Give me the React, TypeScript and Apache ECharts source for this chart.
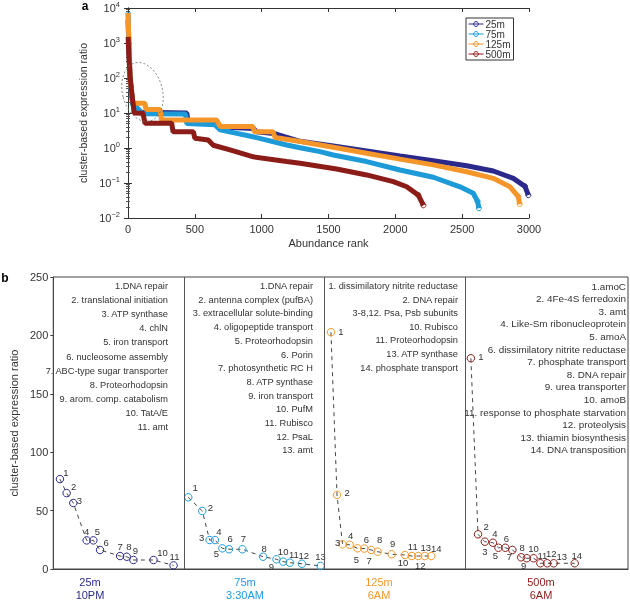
import React, { useEffect, useRef } from 'react';
import * as echarts from 'echarts';

const FONT = '"Liberation Sans", Arial, Helvetica, sans-serif';
const C25 = '#2b2a8c';
const C75 = '#1d9bd9';
const C125 = '#f5962a';
const C500 = '#8c1c17';
const TXT = '#333333';

// ---- Panel a: abundance rank vs cluster-based expression ratio ----
const RANK_25 = [1, 3, 6, 10, 15, 25, 35, 50, 100, 440, 450, 650, 700, 940, 960, 1090, 1287, 1536, 1785, 2035, 2284, 2534, 2733, 2883, 2970, 2995];
const VAL_25 = [4500, 2000, 900, 300, 100, 40, 20, 13, 10.5, 10, 5.5, 5.2, 4.0, 3.6, 2.9, 2.6, 1.55, 1.14, 0.82, 0.59, 0.43, 0.31, 0.22, 0.136, 0.08, 0.045];

const RANK_75 = [1, 3, 6, 10, 15, 25, 35, 60, 110, 430, 440, 650, 690, 935, 1187, 1287, 1436, 1536, 1785, 2035, 2284, 2484, 2583, 2615, 2625];
const VAL_75 = [7500, 3000, 1200, 400, 110, 40, 17, 15, 9.5, 9.4, 5, 4.6, 3.3, 2.1, 1.22, 1.02, 0.79, 0.63, 0.41, 0.235, 0.146, 0.078, 0.051, 0.03, 0.019];

const RANK_125 = [1, 3, 6, 10, 15, 25, 35, 45, 127, 135, 240, 250, 663, 690, 935, 945, 1085, 1100, 1300, 1536, 1785, 2035, 2284, 2534, 2733, 2858, 2920, 2930];
const VAL_125 = [7200, 3200, 1300, 450, 130, 45, 22, 19, 19, 12.6, 12.6, 6.3, 6.3, 4.1, 4.1, 2.9, 2.9, 2.0, 1.5, 1.05, 0.71, 0.48, 0.33, 0.21, 0.136, 0.078, 0.041, 0.025];

const RANK_500 = [1, 3, 6, 10, 15, 25, 35, 40, 45, 112, 127, 327, 337, 489, 500, 600, 638, 763, 938, 1187, 1287, 1561, 1785, 1985, 2085, 2172, 2210];
const VAL_500 = [1500, 900, 500, 250, 120, 50, 22, 17, 10, 9.8, 5.1, 5.1, 2.9, 2.9, 1.9, 1.7, 1.2, 0.88, 0.56, 0.41, 0.365, 0.25, 0.17, 0.109, 0.078, 0.045, 0.023];

const DEPTHS = ['25m', '75m', '125m', '500m'];
const TIMES = ['10PM', '3:30AM', '6AM', '6AM'];

// ---- Panel b: top transcripts per depth ----
const BX_25 = [1, 2, 3, 5, 6, 7, 10, 11, 12, 15, 18];
const BY_25 = [77, 65, 56.5, 24.5, 24.5, 16.3, 11.1, 10.5, 7.7, 7.7, 3.1];
const BX_75 = [20.2, 22.3, 23.4, 24.2, 25.3, 26.3, 28.3, 31.4, 33.4, 34.4, 35.4, 37.2, 40.0];
const BY_75 = [61.4, 49.7, 24.8, 24.8, 17.7, 16.9, 16.9, 10.5, 8.3, 6.3, 5.4, 4.5, 2.6];
const BX_125 = [41.55, 42.46, 43.29, 44.36, 45.52, 46.55, 47.57, 48.54, 50.63, 52.62, 53.64, 54.62, 55.58, 56.56];
const BY_125 = [202.7, 63.4, 21.1, 20.7, 17.7, 17.5, 16.3, 14.8, 12.6, 12.0, 11.1, 11.1, 11.1, 11.1];
const BX_500 = [62.49, 63.56, 64.58, 65.79, 66.62, 67.64, 68.7, 70.01, 70.85, 71.87, 72.89, 73.91, 74.88, 78.03];
const BY_500 = [180.4, 29.7, 23.4, 22.5, 18.2, 18.2, 16.3, 10.0, 9.2, 9.2, 4.9, 4.9, 4.9, 4.9];
const DIVIDERS = [19.53, 40.52, 61.66];

const GENES_25 = ['1.DNA repair', '2. translational initiation', '3. ATP synthase', '4. chlN', '5. iron transport', '6. nucleosome assembly', '7. ABC-type sugar transporter', '8. Proteorhodopsin', '9. arom. comp. catabolism', '10. TatA/E', '11. amt'];
const GENES_75 = ['1.DNA repair', '2. antenna complex (pufBA)', '3. extracellular solute-binding', '4. oligopeptide transport', '5. Proteorhodopsin', '6. Porin', '7. photosynthetic RC H', '8. ATP synthase', '9. iron transport', '10. PufM', '11. Rubisco', '12. PsaL', '13. amt'];
const GENES_125 = ['1. dissimilatory nitrite reductase', '2. DNA repair', '3-8,12. Psa, Psb subunits', '10. Rubisco', '11. Proteorhodopsin', '13. ATP synthase', '14. phosphate transport'];
const GENES_500 = ['1.amoC', '2. 4Fe-4S ferredoxin', '3. amt', '4. Like-Sm ribonucleoprotein', '5. amoA', '6. dissimilatory nitrite reductase', '7. phosphate transport', '8. DNA repair', '9. urea transporter', '10. amoB', '11. response to phosphate starvation', '12. proteolysis', '13. thiamin biosynthesis', '14. DNA transposition'];

// label offsets (style only)
const OFF_25 = [[6, -7], [7, -7], [6, -3], [0, -9], [4, -9], [6, -7], [0, -10], [2, -10], [2, -10], [9, -8], [1, -9]];
const OFF_75 = [[7, -10], [8, -3], [-8, -3], [4, -9], [-6, 5], [1, -11], [1, -11], [1, -8], [-5, 7], [0, -10], [4, -8], [2, -8], [0, -9]];
const OFF_125 = [[10, -1], [10, -2], [-5, -2], [1, -9], [-1, 11], [2, -9], [-2, 11], [2, -12], [1, -11], [-2, 8], [1, -10], [2, 9], [1, -9], [5, -8]];
const OFF_500 = [[10, -2], [8, -8], [0, 10], [2, -9], [-3, 8], [1, -9], [-3, 7], [1, -10], [-3, 7], [0, -10], [2, -8], [4, -10], [8, -7], [2, -8]];

function topSeries(name: string, ranks: number[], vals: number[], color: string) {
  const n = ranks.length;
  return {
    type: 'line',
    name,
    xAxisIndex: 0,
    yAxisIndex: 0,
    data: ranks.map((r, i) =>
      i >= n - 2
        ? { value: [r, vals[i]], symbol: 'circle', symbolSize: 5 }
        : { value: [r, vals[i]] }
    ),
    symbol: 'none',
    showSymbol: true,
    lineStyle: { width: 5, color },
    itemStyle: { color: 'rgba(255,255,255,0)', borderColor: color, borderWidth: 1 },
    emphasis: { disabled: true },
  };
}

function bottomSeries(name: string, xs: number[], ys: number[], offs: number[][], color: string, extra: any = {}) {
  return {
    type: 'line',
    name,
    xAxisIndex: 2,
    yAxisIndex: 2,
    data: xs.map((x, i) => ({
      value: [x, ys[i]],
      label: { offset: offs[i] },
    })),
    symbol: 'circle',
    symbolSize: 7.5,
    showSymbol: true,
    lineStyle: { width: 1, color: '#444', type: [4, 4] },
    itemStyle: { color: 'rgba(255,255,255,0)', borderColor: color, borderWidth: 1 },
    label: {
      show: true,
      position: 'inside',
      formatter: (p: any) => String(p.dataIndex + 1),
      fontSize: 9.5,
      color: TXT,
      fontFamily: FONT,
    },
    emphasis: { disabled: true },
    z: 3,
    ...extra,
  };
}

function geneTexts(lines: string[], right: number, step: number, size: number) {
  return lines.map((t, i) => ({
    type: 'text',
    x: right,
    y: 286 + i * step,
    style: {
      text: t,
      fontSize: size,
      fontFamily: FONT,
      fill: TXT,
      textAlign: 'right',
      textVerticalAlign: 'middle',
    },
    z: 10,
  }));
}

function depthLabels() {
  const cx = [90, 245, 379, 541];
  const cols = [C25, C75, C125, C500];
  const out: any[] = [];
  DEPTHS.forEach((d, i) => {
    out.push({ type: 'text', x: cx[i], y: 582, style: { text: d, fontSize: 11, fontFamily: FONT, fill: cols[i], textAlign: 'center', textVerticalAlign: 'middle' } });
    out.push({ type: 'text', x: cx[i], y: 595, style: { text: TIMES[i], fontSize: 11, fontFamily: FONT, fill: cols[i], textAlign: 'center', textVerticalAlign: 'middle' } });
  });
  return out;
}

export default function App() {
  const ref = useRef<HTMLDivElement>(null);
  useEffect(() => {
    if (!ref.current) return;
    const chart = echarts.init(ref.current, undefined, { renderer: 'svg' });
    const axisLine = { show: true, lineStyle: { color: '#333', width: 1 } };
    const option: any = {
      animation: false,
      textStyle: { fontFamily: FONT },
      grid: [
        { left: 128, right: 101, top: 8, bottom: 385 },
        { left: 38, right: 2, top: 277, bottom: 34, show: true, borderColor: '#444', borderWidth: 1 },
      ],
      legend: {
        data: DEPTHS,
        orient: 'vertical',
        left: 466,
        top: 18,
        padding: [1, 3, 1, 2],
        itemGap: 0,
        itemWidth: 15,
        itemHeight: 6,
        backgroundColor: '#fff',
        borderColor: '#333',
        borderWidth: 1,
        lineStyle: { width: 1 },
        itemStyle: { color: 'rgba(255,255,255,0)', borderWidth: 1 },
        textStyle: { fontSize: 10, color: TXT, fontFamily: FONT, lineHeight: 9, padding: [0, 0, 0, -3] },
        selectedMode: false,
      },
      xAxis: [
        {
          gridIndex: 0, type: 'value', min: 0, max: 3000, interval: 500, position: 'bottom',
          axisLine, axisTick: { show: true, inside: true, length: 4, lineStyle: { color: '#333' } },
          axisLabel: { fontSize: 11, color: TXT, margin: 5, fontFamily: FONT, formatter: (v: number) => String(v) },
          splitLine: { show: false },
          name: 'Abundance rank', nameLocation: 'middle', nameGap: 19,
          nameTextStyle: { fontSize: 11, color: TXT, fontFamily: FONT },
        },
        {
          gridIndex: 0, type: 'value', min: 0, max: 3000, interval: 500, position: 'top',
          axisLine, axisTick: { show: true, inside: true, length: 4, lineStyle: { color: '#333' } },
          axisLabel: { show: false }, splitLine: { show: false },
        },
        {
          gridIndex: 1, type: 'value', min: 0, max: 86, position: 'bottom',
          axisLine: { show: true, lineStyle: { color: '#444' } }, axisTick: { show: false },
          axisLabel: { show: false }, splitLine: { show: false },
        },
      ],
      yAxis: [
        {
          gridIndex: 0, type: 'log', logBase: 10, min: 0.01, max: 10000, position: 'left',
          axisLine, axisTick: { show: true, inside: true, length: 4, lineStyle: { color: '#333' } },
          minorTick: { show: true, splitNumber: 9, length: 2, lineStyle: { color: '#555' } },
          splitLine: { show: false },
          axisLabel: {
            margin: 8,
            formatter: (v: number) => {
              const e = Math.round(Math.log10(v));
              return `{b|10}{s|${e < 0 ? '\u2212' + -e : e}}`;
            },
            rich: {
              b: { fontSize: 11, color: TXT, fontFamily: FONT },
              s: { fontSize: 7.5, color: TXT, fontFamily: FONT, padding: [0, 0, 7, 0] },
            },
          },
          name: 'cluster-based expression ratio', nameLocation: 'middle', nameGap: 28,
          nameTextStyle: { fontSize: 10.5, color: TXT, fontFamily: FONT },
        },
        {
          gridIndex: 0, type: 'log', logBase: 10, min: 0.01, max: 10000, position: 'right',
          axisLine, axisTick: { show: true, inside: true, length: 4, lineStyle: { color: '#333' } },
          minorTick: { show: true, splitNumber: 9, length: 2, lineStyle: { color: '#555' } },
          splitLine: { show: false }, axisLabel: { show: false },
        },
        {
          gridIndex: 1, type: 'value', min: 0, max: 250, interval: 50, position: 'left',
          axisLine: { show: true, lineStyle: { color: '#444' } },
          axisTick: { show: true, inside: false, length: 3, lineStyle: { color: '#444' } },
          axisLabel: { fontSize: 11, color: TXT, margin: 5, fontFamily: FONT },
          splitLine: { show: false },
          name: 'cluster-based expression ratio', nameLocation: 'middle', nameGap: 31,
          nameTextStyle: { fontSize: 11, color: TXT, fontFamily: FONT },
        },
      ],
      series: [
        topSeries('25m', RANK_25, VAL_25, C25),
        topSeries('75m', RANK_75, VAL_75, C75),
        topSeries('125m', RANK_125, VAL_125, C125),
        topSeries('500m', RANK_500, VAL_500, C500),
        bottomSeries('b25', BX_25, BY_25, OFF_25, C25, {
          markLine: {
            silent: true,
            symbol: 'none',
            label: { show: false },
            lineStyle: { color: '#555', type: 'solid', width: 1 },
            data: DIVIDERS.map((x) => ({ xAxis: x })),
          },
        }),
        bottomSeries('b75', BX_75, BY_75, OFF_75, C75),
        bottomSeries('b125', BX_125, BY_125, OFF_125, C125),
        bottomSeries('b500', BX_500, BY_500, OFF_500, C500),
      ],
      graphic: [
        {
          type: 'ellipse', x: 142.5, y: 92, rotation: 0.25,
          shape: { cx: 0, cy: 0, rx: 20, ry: 30 },
          style: { fill: 'none', stroke: '#777', lineWidth: 0.8, lineDash: [2, 2] },
          z: 20,
        },
        { type: 'text', x: 85, y: 6, style: { text: 'a', fontSize: 12, fontWeight: 'bold', fontFamily: FONT, fill: '#000', textAlign: 'center', textVerticalAlign: 'middle' } },
        { type: 'text', x: 5, y: 278, style: { text: 'b', fontSize: 12, fontWeight: 'bold', fontFamily: FONT, fill: '#000', textAlign: 'center', textVerticalAlign: 'middle' } },
        ...geneTexts(GENES_25, 168, 14.1, 9.25),
        ...geneTexts(GENES_75, 313, 13.7, 9.25),
        ...geneTexts(GENES_125, 458, 13.6, 9.25),
        ...geneTexts(GENES_500, 626, 12.6, 9.9),
        ...depthLabels(),
      ],
    };
    chart.setOption(option);
    return () => chart.dispose();
  }, []);
  return <div ref={ref} style={{ position: 'fixed', left: 0, top: 0, width: 630, height: 603 }} />;
}
